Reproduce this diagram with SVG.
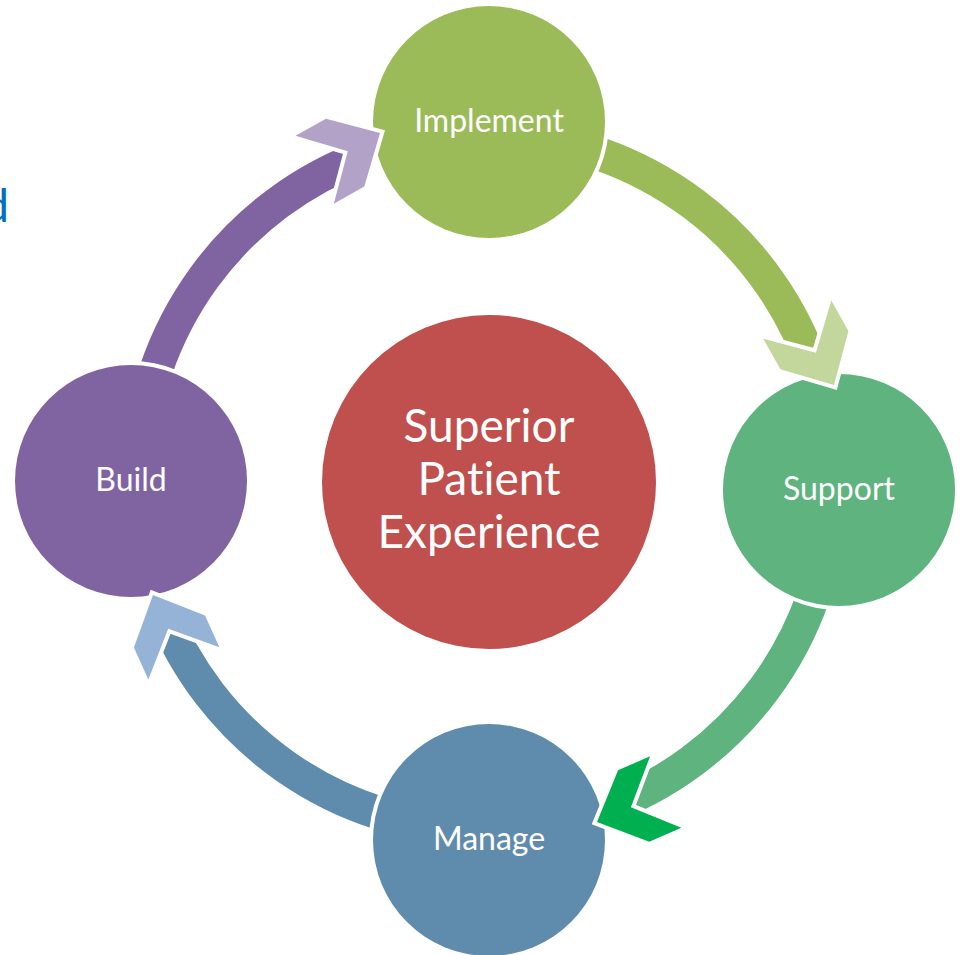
<svg xmlns="http://www.w3.org/2000/svg" width="961" height="955" viewBox="0 0 961 955">
<style>
.band{fill:none;stroke-width:33.5}
.chev{stroke:#ffffff;stroke-width:8;paint-order:stroke;stroke-linejoin:miter}
.lbl{font-family:Lato,"Open Sans","Liberation Sans",sans-serif;fill:#ffffff;text-anchor:middle;font-variant-ligatures:none;font-feature-settings:"liga" 0,"clig" 0}
.node{font-size:32px}
.core{font-size:46px}
</style>
<defs>
<path id="chev" d="M0,0 L-40,-39 L-75,-39 L-37,0 L-75,39 L-40,39 Z"/>
<path id="wedge" d="M-37,0 L-115,-80 L120,-80 L120,80 L-115,80 Z"/>
<mask id="m1" maskUnits="userSpaceOnUse" x="0" y="0" width="961" height="955">
<rect width="961" height="955" fill="#fff"/>
<circle cx="131" cy="481" r="120" fill="#000"/>
<use href="#wedge" fill="#000" transform="translate(380,133) rotate(-29.4)"/>
</mask>
<mask id="m2" maskUnits="userSpaceOnUse" x="0" y="0" width="961" height="955">
<rect width="961" height="955" fill="#fff"/>
<circle cx="489" cy="122" r="120" fill="#000"/>
<use href="#wedge" fill="#000" transform="translate(834,385) rotate(60.7)"/>
</mask>
<mask id="m3" maskUnits="userSpaceOnUse" x="0" y="0" width="961" height="955">
<rect width="961" height="955" fill="#fff"/>
<circle cx="839" cy="490" r="120" fill="#000"/>
<use href="#wedge" fill="#000" transform="translate(597,822) rotate(156.4)"/>
</mask>
<mask id="m4" maskUnits="userSpaceOnUse" x="0" y="0" width="961" height="955">
<rect width="961" height="955" fill="#fff"/>
<circle cx="489" cy="840" r="120" fill="#000"/>
<use href="#wedge" fill="#000" transform="translate(153,595) rotate(-114.3)"/>
</mask>
</defs>

<text x="9" y="222" font-family="Lato,'Open Sans','Liberation Sans',sans-serif" font-size="46" fill="#0070C0" text-anchor="end">d</text>

<g id="node-core">
<circle cx="489" cy="482" r="167" fill="#C0504D"/>
<text class="lbl core" x="489" y="441.7">Superior</text>
<text class="lbl core" x="489" y="495">Patient</text>
<text class="lbl core" x="489" y="548.3">Experience</text>
</g>
<g id="node-implement">
<circle cx="489" cy="122" r="116" fill="#9BBB59"/>
<text class="lbl node" x="489" y="132">Implement</text>
</g>
<g id="node-support">
<circle cx="839" cy="490" r="116" fill="#5EB37E"/>
<text class="lbl node" x="839" y="500">Support</text>
</g>
<g id="node-manage">
<circle cx="489" cy="840" r="116" fill="#5F8CAD"/>
<text class="lbl node" x="489" y="850">Manage</text>
</g>
<g id="node-build">
<circle cx="131" cy="481" r="116" fill="#8064A2"/>
<text class="lbl node" x="131" y="491">Build</text>
</g>

<g id="connectors">
<path class="band" stroke="#8064A2" mask="url(#m1)" d="M137.7,469.9 A347.5,347.5 0 0 1 366.15,155.46"/>
<path class="band" stroke="#9BBB59" mask="url(#m2)" d="M497.13,134.71 A347.5,347.5 0 0 1 815.49,374.62"/>
<path class="band" stroke="#5EB37E" mask="url(#m3)" d="M832.02,500.19 A347.5,347.5 0 0 1 603.85,808.54"/>
<path class="band" stroke="#5F8CAD" mask="url(#m4)" d="M478.94,829.45 A347.5,347.5 0 0 1 160.58,606.53"/>
<use href="#chev" class="chev" fill="#B3A2C7" transform="translate(380,133) rotate(-29.4)"/>
<use href="#chev" class="chev" fill="#C3D69B" transform="translate(834,385) rotate(60.7)"/>
<use href="#chev" class="chev" fill="#00B050" transform="translate(597,822) rotate(156.4)"/>
<use href="#chev" class="chev" fill="#95B3D7" transform="translate(153,595) rotate(-114.3)"/>
</g>
</svg>
